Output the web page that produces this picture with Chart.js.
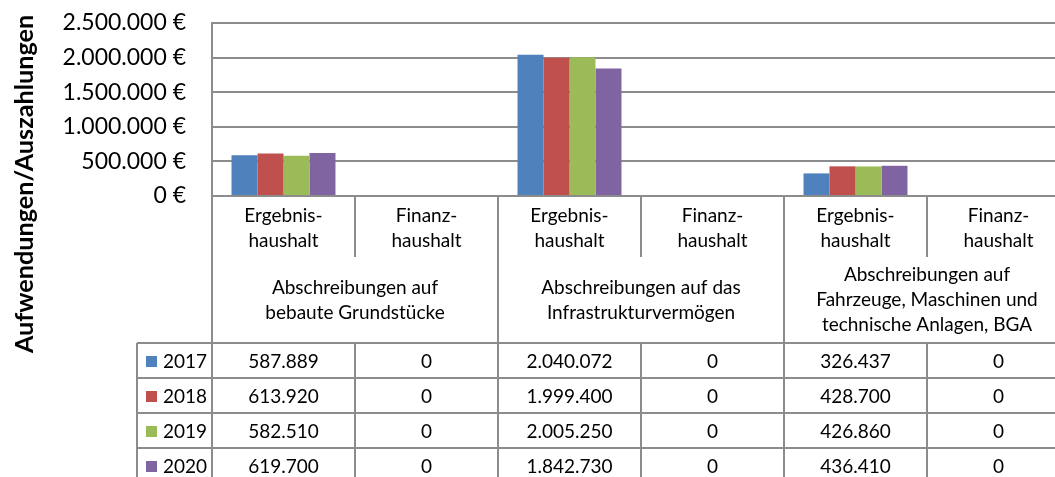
<!DOCTYPE html>
<html><head><meta charset="utf-8">
<script src="https://cdn.jsdelivr.net/npm/chart.js@4/dist/chart.umd.min.js"></script>
<style>html,body{margin:0;padding:0;overflow:hidden;background:#fff}canvas{display:block}</style>
</head><body>
<canvas id="c" width="1080" height="477"></canvas>
<script>
const categories = [["Ergebnis-","haushalt"],["Finanz-","haushalt"],["Ergebnis-","haushalt"],["Finanz-","haushalt"],["Ergebnis-","haushalt"],["Finanz-","haushalt"]];
const groups = [["Abschreibungen auf","bebaute Grundstücke"],["Abschreibungen auf das","Infrastrukturvermögen"],["Abschreibungen auf","Fahrzeuge, Maschinen und","technische Anlagen, BGA"]];
const years = ["2017","2018","2019","2020"];
const values2017 = [587889,0,2040072,0,326437,0];
const values2018 = [613920,0,1999400,0,428700,0];
const values2019 = [582510,0,2005250,0,426860,0];
const values2020 = [619700,0,1842730,0,436410,0];
const seriesValues = [values2017, values2018, values2019, values2020];
const yMin = 0, yMax = 2500000, yStep = 500000;
const axisTitle = "Aufwendungen/Auszahlungen";
const colors = ['#4F81BD','#C0504D','#9BBB59','#8064A2'];

const FONT = 'Lato';
const LINE = '#8c8c8c';
function fmt(n){ return String(n).replace(/\B(?=(\d{3})+(?!\d))/g,'.'); }

const tablePlugin = {
  id:'table',
  afterDraw(chart){
    const ctx = chart.ctx, xs = chart.scales.x, ca = chart.chartArea;
    const n = categories.length;
    const edge = i => i===0 ? xs.left : (i===n ? xs.right : (xs.getPixelForValue(i-1)+xs.getPixelForValue(i))/2);
    const axisY = ca.bottom;
    const catBottom = axisY + 61;
    const tableTop = axisY + 147;
    const rowH = 35;
    const legLeft = 137;
    ctx.save();
    ctx.strokeStyle = LINE; ctx.lineWidth = 2;
    ctx.beginPath();
    for (let i=0;i<=n;i++){
      const x = Math.round(edge(i));
      if (i%2===0){ ctx.moveTo(x,axisY); ctx.lineTo(x,chart.height); }
      else { ctx.moveTo(x,axisY); ctx.lineTo(x,catBottom); ctx.moveTo(x,tableTop); ctx.lineTo(x,chart.height); }
    }
    for (let r=0;r<=years.length;r++){
      const y = tableTop + r*rowH;
      ctx.moveTo(legLeft,y); ctx.lineTo(xs.right,y);
    }
    ctx.moveTo(legLeft,tableTop); ctx.lineTo(legLeft,chart.height);
    ctx.stroke();

    ctx.fillStyle = '#000';
    ctx.textAlign = 'center'; ctx.textBaseline = 'middle';
    ctx.font = '19px ' + FONT;
    for (let i=0;i<n;i++){
      const cx = xs.getPixelForValue(i);
      categories[i].forEach((t,k)=> ctx.fillText(t, cx, axisY + 20 + k*25));
    }
    const gc = axisY + 104;
    groups.forEach((lines,g)=>{
      const cx = (edge(2*g)+edge(2*g+2))/2;
      lines.forEach((t,k)=> ctx.fillText(t, cx, gc + (k-(lines.length-1)/2)*25));
    });
    years.forEach((yr,r)=>{
      const cy = tableTop + r*rowH + rowH/2;
      ctx.fillStyle = colors[r];
      ctx.fillRect(146, Math.round(cy-5), 11, 11);
      ctx.fillStyle = '#000';
      ctx.textAlign = 'left';
      ctx.fillText(yr, 163, cy+1);
      ctx.textAlign = 'center';
      for (let i=0;i<n;i++) ctx.fillText(fmt(seriesValues[r][i]), xs.getPixelForValue(i), cy+1);
    });
    ctx.save();
    let fs = 100; ctx.font = 'bold ' + fs + 'px ' + FONT;
    fs = fs * 338 / ctx.measureText(axisTitle).width;
    ctx.font = 'bold ' + fs.toFixed(1) + 'px ' + FONT;
    ctx.translate(25, 184); ctx.rotate(-Math.PI/2);
    ctx.textAlign='center'; ctx.textBaseline='middle';
    ctx.fillText(axisTitle, 0, 0);
    ctx.restore();
    ctx.restore();
  }
};

Chart.defaults.font.family = FONT;
new Chart(document.getElementById('c'), {
  type:'bar',
  data:{
    labels: categories,
    datasets: years.map((y,i)=>({label:y, data:seriesValues[i], backgroundColor:colors[i], borderWidth:0,
      categoryPercentage:0.727, barPercentage:1.0}))
  },
  options:{
    responsive:false, animation:false,
    layout:{padding:{left:0, top:23, right:10, bottom:281}},
    plugins:{legend:{display:false}, tooltip:{enabled:false}},
    scales:{
      x:{display:false},
      y:{min:yMin, max:yMax,
        ticks:{stepSize:yStep, padding:26, color:'#000', font:{size:23, family:FONT},
          callback:v=>fmt(v)+' €'},
        grid:{color:LINE, lineWidth:2, drawTicks:false},
        border:{display:true, color:LINE, width:2},
        afterFit:s=>{s.width=212; s.paddingTop=0; s.paddingBottom=0;}
      }
    }
  },
  plugins:[tablePlugin]
});
</script>
</body></html>
